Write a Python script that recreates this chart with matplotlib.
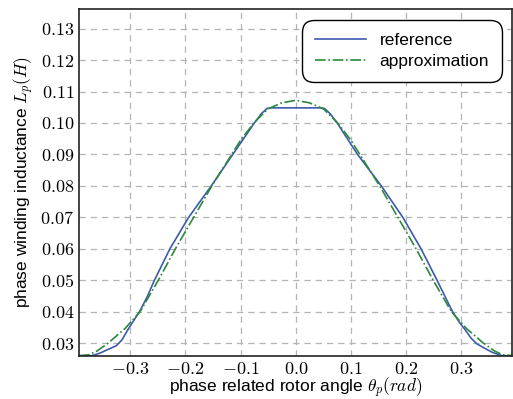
import matplotlib
matplotlib.use("Agg")
import matplotlib.pyplot as plt
import numpy as np

# ---- data ----
theta_ref = [-0.3927, -0.370, -0.355, -0.340, -0.325, -0.315, -0.305, -0.295, -0.283,
             -0.269, -0.256, -0.228, -0.194, -0.153, -0.114, -0.075, -0.062, -0.052,
             -0.046, 0.046, 0.052, 0.062, 0.075, 0.112, 0.155, 0.194, 0.227, 0.256,
             0.270, 0.284, 0.297, 0.308, 0.318, 0.328, 0.342, 0.357, 0.374, 0.3927]
L_ref = [0.0260, 0.0260, 0.0268, 0.0280, 0.0292, 0.0310, 0.0340, 0.0368, 0.0400,
         0.0448, 0.0500, 0.0600, 0.0700, 0.0800, 0.0900, 0.1000, 0.1030, 0.1046,
         0.1048, 0.1048, 0.1046, 0.1030, 0.1000, 0.0900, 0.0800, 0.0700, 0.0600, 0.0500,
         0.0450, 0.0400, 0.0365, 0.0340, 0.0315, 0.0298, 0.0284, 0.0270, 0.0260, 0.0260]

theta_app = [-0.3927, -0.375, -0.360, -0.340, -0.309, -0.282, -0.249, -0.218, -0.185,
             -0.152, -0.125, -0.100, -0.075, -0.050, -0.025, 0.000, 0.025, 0.050,
             0.075, 0.100, 0.125, 0.152, 0.185, 0.218, 0.249, 0.282, 0.309, 0.340,
             0.360, 0.375, 0.3927]
L_app = [0.0260, 0.0263, 0.0275, 0.0300, 0.0347, 0.0400, 0.0500, 0.0600, 0.0700,
         0.0800, 0.0875, 0.0945, 0.1002, 0.1045, 0.1064, 0.1072, 0.1064, 0.1045,
         0.1002, 0.0945, 0.0875, 0.0800, 0.0700, 0.0600, 0.0500, 0.0400, 0.0347, 0.0300,
         0.0275, 0.0263, 0.0260]

xticks = [-0.3, -0.2, -0.1, 0.0, 0.1, 0.2, 0.3]
xticklabels = [r"$-0.3$", r"$-0.2$", r"$-0.1$", r"$0.0$", r"$0.1$", r"$0.2$", r"$0.3$"]
yticks = [0.03, 0.04, 0.05, 0.06, 0.07, 0.08, 0.09, 0.10, 0.11, 0.12, 0.13]
yticklabels = [r"$%.2f$" % v for v in yticks]

plt.rcParams["mathtext.fontset"] = "cm"
plt.rcParams["font.family"] = ["Liberation Sans", "DejaVu Sans"]

fig = plt.figure(figsize=(5.13, 3.99), dpi=100)
ax = fig.add_axes([0.154, 0.1085, 0.845, 0.869])

ax.plot(theta_ref, L_ref, color="#3d5aae", lw=1.2, label="reference")
ax.plot(theta_app, L_app, color="#2a8a3a", lw=1.2, linestyle="-.", label="approximation")

ax.set_xlim(-np.pi / 8, np.pi / 8)
ax.set_ylim(0.0260, 0.1048 * 1.3)
ax.set_xticks(xticks)
ax.set_xticklabels(xticklabels, fontsize=13)
ax.set_yticks(yticks)
ax.set_yticklabels(yticklabels, fontsize=13)
ax.tick_params(axis="x", length=0, pad=3.5)
ax.tick_params(axis="y", length=0, pad=3.5)
ax.grid(True, color="#b4b4b4", linestyle=(0, (5, 4)), lw=0.9)
for s in ax.spines.values():
    s.set_linewidth(1.2)
    s.set_color("#222222")

ax.set_xlabel(r"phase related rotor angle $\theta_p(rad)$", fontsize=12.5, labelpad=-1)
ax.set_ylabel(r"phase winding inductance $L_p(H)$", fontsize=12.5, labelpad=3)

leg = ax.legend(loc="upper right", fontsize=12.5, fancybox=True, framealpha=1,
                edgecolor="black", borderpad=0.75, handlelength=2.9,
                labelspacing=0.35, borderaxespad=0.0,
                bbox_to_anchor=(0.976, 0.968))
leg.get_frame().set_linewidth(1.0)
leg.get_frame().set_boxstyle("round,pad=0,rounding_size=0.7")

fig.savefig("out.png", dpi=100)
